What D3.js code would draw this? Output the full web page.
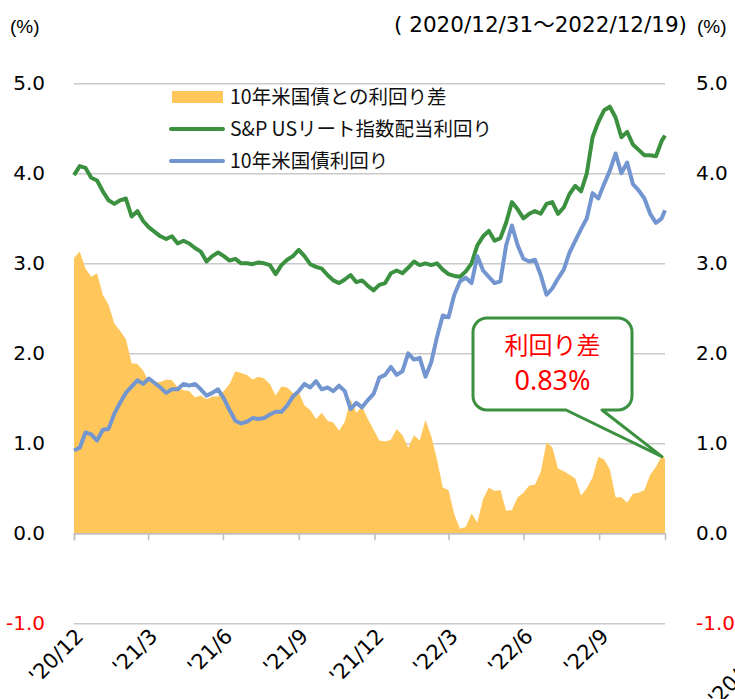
<!DOCTYPE html>
<html>
<head>
<meta charset="utf-8">
<script src="https://cdn.jsdelivr.net/npm/d3@7"></script>
<style>
  body { margin: 0; background: #fff; }
  svg { display: block; font-family: "DejaVu Sans", sans-serif; }
  .jp { font-family: "Noto Sans CJK JP", sans-serif; }
</style>
</head>
<body>
<div id="chart"></div>
<script>
// Weekly readings from 2020/12/31 to 2022/12/19 (last point = 12/19)
const startDate = new Date(2020, 11, 31);
const endDate = new Date(2022, 11, 19);

// S&P US REIT index dividend yield (%)
const reitYield = [
  3.98, 4.08, 4.06, 3.95, 3.92, 3.80, 3.70, 3.66, 3.70, 3.72,
  3.52, 3.58, 3.47, 3.40, 3.35, 3.30, 3.27, 3.30, 3.22, 3.25,
  3.22, 3.17, 3.13, 3.02, 3.08, 3.12, 3.08, 3.03, 3.05, 3.00,
  3.00, 2.99, 3.01, 3.00, 2.98, 2.88, 2.98, 3.04, 3.08, 3.15,
  3.08, 2.99, 2.96, 2.94, 2.87, 2.81, 2.78, 2.82, 2.87, 2.79,
  2.81, 2.75, 2.70, 2.76, 2.78, 2.89, 2.92, 2.89, 2.95, 3.02,
  2.98, 3.00, 2.98, 3.00, 2.93, 2.88, 2.86, 2.85, 2.91, 3.00,
  3.20, 3.30, 3.36, 3.25, 3.28, 3.45, 3.68, 3.60, 3.50, 3.55,
  3.58, 3.55, 3.66, 3.68, 3.55, 3.62, 3.77, 3.86, 3.80, 4.00,
  4.40, 4.57, 4.70, 4.74, 4.62, 4.40, 4.46, 4.32, 4.26, 4.20,
  4.20, 4.19, 4.36, 4.42
];

// US 10-year Treasury yield (%)
const ustYield = [
  0.92, 0.95, 1.12, 1.10, 1.03, 1.15, 1.16, 1.33, 1.45, 1.56,
  1.63, 1.70, 1.66, 1.72, 1.67, 1.62, 1.56, 1.60, 1.60, 1.66,
  1.64, 1.66, 1.60, 1.53, 1.56, 1.60, 1.50, 1.37, 1.25, 1.22,
  1.24, 1.28, 1.27, 1.28, 1.32, 1.35, 1.35, 1.42, 1.52, 1.58,
  1.66, 1.62, 1.69, 1.60, 1.62, 1.58, 1.64, 1.58, 1.38, 1.45,
  1.40, 1.48, 1.55, 1.73, 1.76, 1.85, 1.76, 1.80, 2.00, 1.93,
  1.95, 1.74, 1.90, 2.18, 2.42, 2.40, 2.65, 2.80, 2.84, 2.78,
  3.08, 2.92, 2.85, 2.78, 2.80, 3.20, 3.42, 3.20, 3.05, 3.02,
  3.04, 2.87, 2.65, 2.72, 2.83, 2.93, 3.12, 3.25, 3.38, 3.50,
  3.78, 3.72, 3.88, 4.03, 4.22, 4.00, 4.12, 3.88, 3.81, 3.72,
  3.55, 3.45, 3.50, 3.59
];

// spread = REIT yield - 10y yield
const spread = reitYield.map((v, i) => +(v - ustYield[i]).toFixed(2));

const dates = reitYield.map((_, i) =>
  i === reitYield.length - 1 ? endDate : d3.timeDay.offset(startDate, 7 * i));

const tickDates = [
  new Date(2020, 11, 31), new Date(2021, 2, 31), new Date(2021, 5, 30),
  new Date(2021, 8, 30), new Date(2021, 11, 31), new Date(2022, 2, 31),
  new Date(2022, 5, 30), new Date(2022, 8, 30)
];
const tickLabels = ["'20/12", "'21/3", "'21/6", "'21/9", "'21/12", "'22/3", "'22/6", "'22/9"];
const yTicks = [-1, 0, 1, 2, 3, 4, 5];

const legendNames = ["10年米国債との利回り差", "S&P USリート指数配当利回り", "10年米国債利回り"];
const colors = { spread: "#ffc65c", reit: "#3c9140", ust: "#7396d0" };

const W = 735, H = 699;
const plot = { left: 74, right: 665, top: 83.3, bottom: 623.3 };

const svg = d3.select("#chart").append("svg")
  .attr("width", W)
  .attr("height", H);

const x = d3.scaleTime()
  .domain([startDate, endDate])
  .range([plot.left, plot.right]);

const y = d3.scaleLinear()
  .domain([-1, 5])
  .range([plot.bottom, plot.top]);

// gridlines
const grid = svg.append("g")
  .attr("transform", `translate(${plot.left},0)`)
  .call(d3.axisLeft(y).tickValues(yTicks).tickSize(-(plot.right - plot.left)).tickFormat(""));
grid.select(".domain").remove();
grid.selectAll("line").attr("stroke", "#c9c9c9").attr("stroke-width", 1.5);

// spread area
const area = d3.area()
  .x((d, i) => x(dates[i]))
  .y0(y(0))
  .y1(d => y(d));

svg.append("path")
  .datum(spread)
  .attr("fill", colors.spread)
  .attr("d", area);

// x axis
const xAxis = svg.append("g")
  .attr("transform", `translate(0,${y(0)})`)
  .call(d3.axisBottom(x).tickValues(tickDates).tickSize(7).tickFormat((d, i) => tickLabels[i]));
xAxis.select(".domain").attr("stroke", "#bdbdbd").attr("stroke-width", 1.5);
xAxis.selectAll(".tick line").attr("stroke", "#bdbdbd").attr("stroke-width", 1.5);
xAxis.selectAll("text")
  .attr("x", 0).attr("y", 0).attr("dy", "0.35em")
  .attr("text-anchor", "end")
  .attr("transform", "translate(5,99) rotate(-45)")
  .attr("fill", "#000")
  .style("font-size", "21px")
  .style("font-family", "DejaVu Sans, sans-serif");

// clipped label at the far right edge
svg.append("text")
  .attr("transform", "translate(717,707) rotate(-45)")
  .attr("text-anchor", "start")
  .style("font-size", "21px")
  .text("'20/12");

// lines
const line = d3.line()
  .x((d, i) => x(dates[i]))
  .y(d => y(d));

svg.append("path")
  .datum(reitYield)
  .attr("fill", "none")
  .attr("stroke", colors.reit)
  .attr("stroke-width", 4)
  .attr("stroke-linejoin", "round")
  .attr("d", line);

svg.append("path")
  .datum(ustYield)
  .attr("fill", "none")
  .attr("stroke", colors.ust)
  .attr("stroke-width", 4)
  .attr("stroke-linejoin", "round")
  .attr("d", line);

// y axes (labels only), plain hyphen for the minus sign
const fmt = v => d3.format(".1f")(v).replace("−", "-");
const yLeft = svg.append("g")
  .attr("transform", `translate(${plot.left},0)`)
  .call(d3.axisLeft(y).tickValues(yTicks).tickSize(0).tickPadding(29).tickFormat(fmt));
const yRight = svg.append("g")
  .attr("transform", `translate(${plot.right},0)`)
  .call(d3.axisRight(y).tickValues(yTicks).tickSize(0).tickPadding(31).tickFormat(fmt));
[yLeft, yRight].forEach(g => {
  g.select(".domain").remove();
  g.selectAll("text")
    .style("font-size", "20px")
    .style("font-family", "DejaVu Sans, sans-serif")
    .attr("fill", d => d < 0 ? "#ff0000" : "#000");
});

// unit labels and period
svg.append("text").attr("x", 10).attr("y", 33)
  .style("font-size", "19px").style("font-family", "Liberation Sans, sans-serif").text("(%)");
svg.append("text").attr("x", 697).attr("y", 33)
  .style("font-size", "19px").style("font-family", "Liberation Sans, sans-serif").text("(%)");
const period = svg.append("text").attr("x", 687).attr("y", 32).attr("text-anchor", "end")
  .style("font-size", "21.5px");
period.append("tspan").text("( 2020/12/31");
period.append("tspan").attr("class", "jp").text("～");
period.append("tspan").text("2022/12/19)");

// legend
const legend = svg.append("g").attr("class", "jp");
legendNames.forEach((name, i) => {
  const cy = 97 + i * 32;
  if (i === 0) {
    legend.append("rect")
      .attr("x", 172).attr("y", cy - 6).attr("width", 51).attr("height", 12)
      .attr("fill", colors.spread);
  } else {
    legend.append("line")
      .attr("x1", 171).attr("x2", 223).attr("y1", cy).attr("y2", cy)
      .attr("stroke", i === 1 ? colors.reit : colors.ust)
      .attr("stroke-width", 4)
      .attr("stroke-linecap", "round");
  }
  legend.append("text")
    .attr("x", 230).attr("y", cy).attr("dy", "0.36em")
    .style("font-size", "19.5px")
    .attr("fill", "#111")
    .text(name);
});

// callout
const lastX = x(dates[dates.length - 1]);
const lastY = y(spread[spread.length - 1]);
const box = { x0: 473, y0: 318, x1: 632, y1: 410, r: 14 };
const tail = { a: 566, b: 602 };
const p = d3.path();
p.moveTo(box.x0 + box.r, box.y0);
p.lineTo(box.x1 - box.r, box.y0);
p.arcTo(box.x1, box.y0, box.x1, box.y0 + box.r, box.r);
p.lineTo(box.x1, box.y1 - box.r);
p.arcTo(box.x1, box.y1, box.x1 - box.r, box.y1, box.r);
p.lineTo(tail.b, box.y1);
p.lineTo(lastX - 3, lastY - 2);
p.lineTo(tail.a, box.y1);
p.lineTo(box.x0 + box.r, box.y1);
p.arcTo(box.x0, box.y1, box.x0, box.y1 - box.r, box.r);
p.lineTo(box.x0, box.y0 + box.r);
p.arcTo(box.x0, box.y0, box.x0 + box.r, box.y0, box.r);
p.closePath();
svg.append("path")
  .attr("d", p.toString())
  .attr("fill", "#fff")
  .attr("stroke", colors.reit)
  .attr("stroke-width", 3)
  .attr("stroke-linejoin", "round");

const cx = (box.x0 + box.x1) / 2;
svg.append("text").attr("class", "jp")
  .attr("x", cx).attr("y", 345).attr("dy", "0.36em").attr("text-anchor", "middle")
  .style("font-size", "24px").attr("fill", "#ff0000").text("利回り差");
svg.append("text")
  .attr("x", cx).attr("y", 380).attr("dy", "0.36em").attr("text-anchor", "middle")
  .style("font-size", "27px").style("font-family", "Noto Sans, sans-serif")
  .attr("fill", "#ff0000").text(d3.format(".2f")(spread[spread.length - 1]) + "%");
</script>
</body>
</html>
